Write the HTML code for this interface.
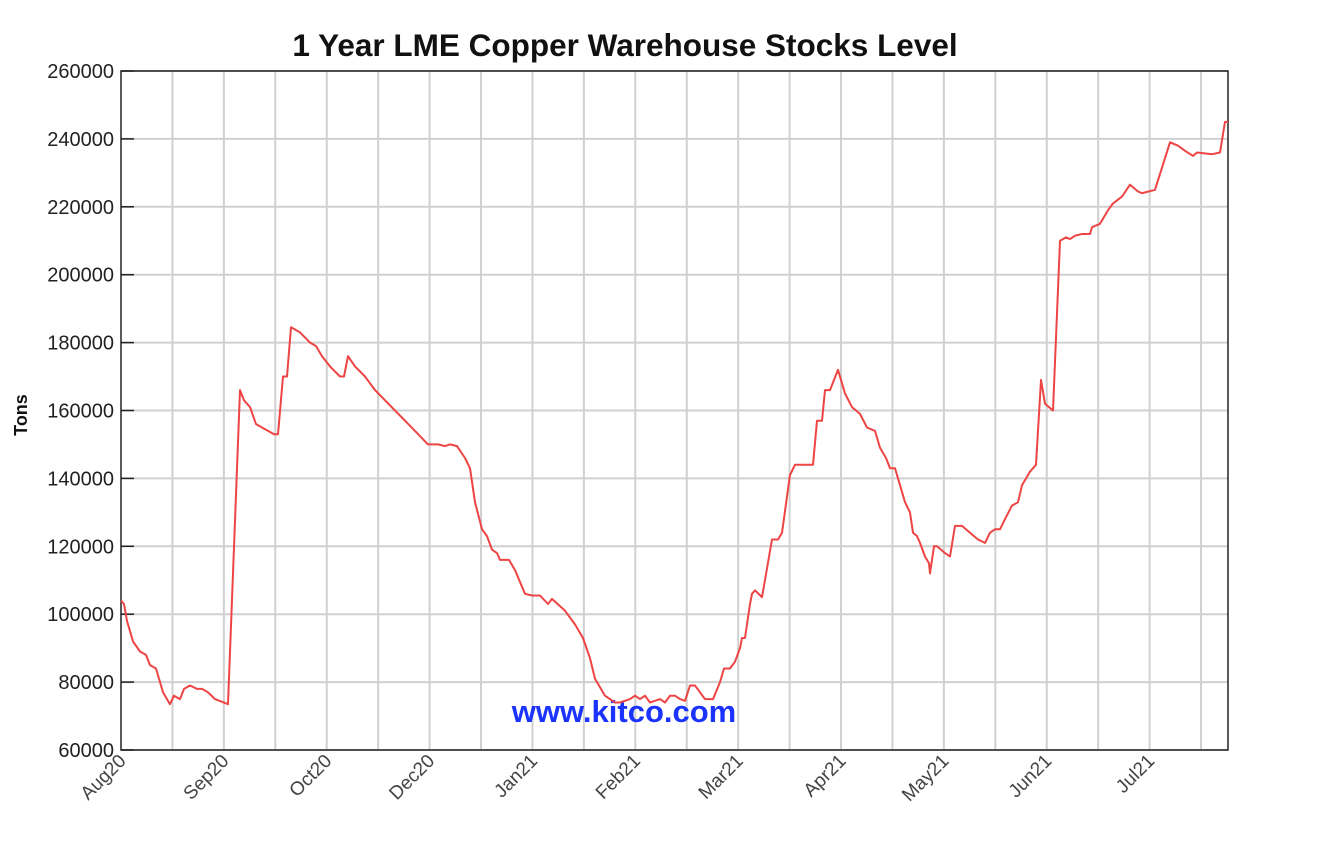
<!DOCTYPE html>
<html><head><meta charset="utf-8"><style>
html,body{margin:0;padding:0;background:#fff;}
svg{display:block;font-family:"Liberation Sans",sans-serif;}
</style></head><body>
<svg id="chart" width="1328" height="848"></svg>
<script>
const yTicks=[60000,80000,100000,120000,140000,160000,180000,200000,220000,240000,260000];
const xLabels=["Aug20","Sep20","Oct20","Dec20","Jan21","Feb21","Mar21","Apr21","May21","Jun21","Jul21"];
const xPix=[121,124,127,133,140,146,150,156,160,163,167,170,174,180,184,190,197,202,208,215,228,240,244,250,256,268,274,278,283,287,291,300,310,316,322,330,340,344,348,355,365,375,385,395,405,415,428,438,445,450,457,465,470,475,482,487,492,497,500,509,515,525,532,540,548,552,565,575,583,590,595,605,615,620,630,635,640,645,650,655,660,665,670,675,680,685,690,695,700,705,713,720,724,730,735,740,742,745,750,752,755,762,772,778,782,790,795,805,813,817,822,825,830,838,845,852,860,867,875,880,886,890,895,900,905,910,913,917,920,925,929,930,934,937,945,950,955,962,970,978,985,990,995,1000,1005,1012,1018,1022,1030,1036,1041,1045,1053,1060,1066,1070,1075,1082,1090,1092,1100,1108,1113,1122,1130,1138,1142,1155,1170,1178,1185,1193,1197,1212,1220,1225,1228];
const xUnits=xPix.map(p=>+((p-121)/51.43).toFixed(3));
const stocks=[104,103,98,92,89,88,85,84,80,77,75,73.5,76,75,78,79,78,78,77,75,73.5,166,163,161,156,154,153,153,170,170,184.5,183,180,179,176,173,170,170,176,173,170,166,163,160,157,154,150,150,149.5,150,149.5,146,143,133,125,123,119,118,116,116,113,106,105.5,105.5,103,104.5,101,97,93,87,81,76,74,74,75,76,75,76,74,74.5,75,74,76,76,75,74.5,79,79,77,75,75,80,84,84,86,90,93,93,103,106,107,105,122,122,124,141,144,144,144,157,157,166,166,172,165,161,159,155,154,149,146,143,143,138,133,130,124,123,121,117,115,112,120,120,118,117,126,126,124,122,121,124,125,125,128,132,133,138,142,144,169,162,160,210,211,210.5,211.5,212,212,214,215,219,221,223,226.5,224.5,224,225,239,238,236.5,235,236,235.5,236,245,245].map(v=>v*1000);

const NS="http://www.w3.org/2000/svg";
const svg=document.getElementById('chart');
const L=121,R=1228,T=71,B=750,step=51.43;
const X=u=>L+u*step;
const Y=v=>B-(v-60000)/200000*(B-T);
function mk(tag,attrs,parent){const e=document.createElementNS(NS,tag);for(const k in attrs)e.setAttribute(k,attrs[k]);(parent||svg).appendChild(e);return e;}

for(let i=1;i<=21;i++){
  const g=mk('line',{x1:X(i),x2:X(i),y1:T,y2:B,stroke:'#d0d0d0','stroke-width':2});
  
  
}
yTicks.forEach(v=>{
  const g=mk('line',{x1:L,x2:R,y1:Y(v),y2:Y(v),stroke:'#d0d0d0','stroke-width':2});
  
  
  const t=mk('line',{x1:L,x2:L+13,y1:Y(v),y2:Y(v),stroke:'#222','stroke-width':1.5});
  
  
  const lb=mk('text',{x:L-7,y:Y(v)+7,'text-anchor':'end','font-size':20,fill:'#222'});
  lb.textContent=v;
  
  
});
const fr=mk('rect',{x:L,y:T,width:R-L,height:B-T,fill:'none',stroke:'#222','stroke-width':1.5});


xLabels.forEach((s,i)=>{
  const x=X(i*2);
  const t=mk('text',{x:x+6,y:B+12,'text-anchor':'end','font-size':19,fill:'#444',transform:`rotate(-45 ${x+6} ${B+12})`});
  t.textContent=s;
  
  
});
const wm=mk('text',{x:624,y:722,'text-anchor':'middle','font-size':31,'font-weight':'bold',fill:'#1a33ff'});
wm.textContent='www.kitco.com';


const pts=xUnits.map((u,i)=>X(u).toFixed(1)+','+Y(stocks[i]).toFixed(1)).join(' ');
const ln=mk('polyline',{points:pts,fill:'none',stroke:'#ee4444','stroke-width':2,'stroke-linejoin':'round'});


const ti=mk('text',{x:625,y:56,'text-anchor':'middle','font-size':31.5,'font-weight':'bold',fill:'#111'});
ti.textContent='1 Year LME Copper Warehouse Stocks Level';


const ya=mk('text',{x:27,y:415,'text-anchor':'middle','font-size':18,'font-weight':'bold',fill:'#111',transform:'rotate(-90 27 415)'});
ya.textContent='Tons';


</script>
</body></html>
